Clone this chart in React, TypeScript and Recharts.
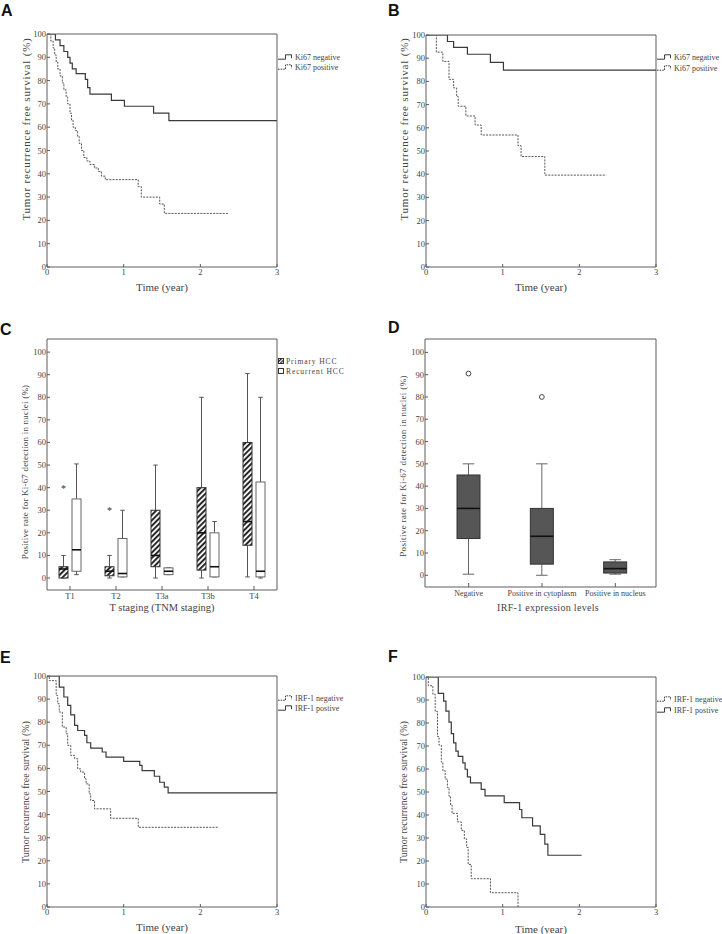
import React from "react";
import { LineChart, Line, XAxis, YAxis, ComposedChart, Bar } from "recharts";

const FONT = "'Liberation Serif', 'DejaVu Serif', serif";
const INK = "#444";
const FRAME = "#5c5c5c";
const CURVE = "#3a3a3a";

// ---- Kaplan-Meier data (time in years, survival in %) ----
const aNegTime = [0, 0.11, 0.17, 0.22, 0.27, 0.3, 0.33, 0.38, 0.5, 0.53, 0.56, 0.84, 1.01, 1.39, 1.59, 3.0];
const aNegSurv = [100, 97.5, 95, 92.5, 90, 87.5, 85, 83, 80.5, 77, 74.2, 71.5, 69, 66, 62.8, 62.8];
const aPosTime = [0, 0.05, 0.08, 0.1, 0.12, 0.14, 0.17, 0.2, 0.22, 0.25, 0.27, 0.3, 0.32, 0.34, 0.37, 0.4, 0.42, 0.45, 0.48, 0.52, 0.56, 0.62, 0.67, 0.71, 0.76, 1.19, 1.23, 1.47, 1.53, 2.36];
const aPosSurv = [100, 97, 94, 91, 88, 85, 82, 79, 76, 73, 70, 66, 63, 60, 58.5, 56, 53, 50, 47, 45.5, 44, 42.5, 41, 39, 37.5, 34.5, 30, 27, 23, 23];

const bNegTime = [0, 0.28, 0.36, 0.54, 0.84, 1.01, 3.0];
const bNegSurv = [100, 97.2, 94.7, 91.7, 88.2, 84.9, 84.9];
const bPosTime = [0, 0.135, 0.22, 0.3, 0.36, 0.4, 0.42, 0.52, 0.64, 0.72, 1.2, 1.24, 1.55, 2.35];
const bPosSurv = [100, 92.6, 88.6, 80.9, 77.2, 73.5, 69.3, 65.1, 61.2, 56.9, 52.3, 47.6, 39.6, 39.6];

const eNegTime = [0, 0.03, 0.12, 0.14, 0.16, 0.2, 0.25, 0.27, 0.31, 0.36, 0.4, 0.44, 0.49, 0.51, 0.55, 0.57, 0.62, 0.83, 1.19, 2.23];
const eNegSurv = [100, 98, 91.6, 88, 84.4, 77.9, 75, 70, 65.6, 64.2, 59.8, 58.4, 55.5, 53.3, 49, 46.1, 42.5, 38.4, 34.5, 34.5];
const ePosTime = [0, 0.16, 0.22, 0.27, 0.31, 0.36, 0.4, 0.49, 0.52, 0.57, 0.72, 0.77, 1.0, 1.21, 1.24, 1.4, 1.47, 1.53, 1.58, 3.0];
const ePosSurv = [100, 95.2, 90.9, 87.3, 83.2, 78.6, 76.4, 74.3, 71.1, 68.8, 67.1, 64.9, 63.0, 61.3, 59.0, 56.6, 54.0, 51.9, 49.4, 49.4];

const fNegTime = [0, 0.03, 0.09, 0.12, 0.15, 0.17, 0.2, 0.22, 0.25, 0.28, 0.3, 0.32, 0.34, 0.41, 0.46, 0.5, 0.53, 0.55, 0.59, 0.84, 1.2];
const fNegSurv = [100, 96.2, 92.5, 85, 74.1, 70.4, 63, 59.3, 55.6, 51.9, 48.1, 44.4, 40.7, 37, 33.3, 29.6, 25.9, 18.5, 12.3, 6.2, 0];
const fPosTime = [0, 0.16, 0.23, 0.26, 0.3, 0.33, 0.36, 0.39, 0.42, 0.48, 0.51, 0.54, 0.58, 0.72, 0.77, 1.02, 1.22, 1.25, 1.39, 1.49, 1.55, 1.59, 2.03];
const fPosSurv = [100, 92.9, 89.5, 85.2, 80.4, 75.4, 71.4, 67.8, 65.5, 62.7, 59.9, 56.6, 54.0, 51.1, 48.3, 45.4, 42.4, 38.8, 35.3, 31.6, 27.3, 22.5, 22.5];

const kmTicksX = [0, 1, 2, 3];
const pctTicks = [0, 10, 20, 30, 40, 50, 60, 70, 80, 90, 100];

// ---- Box plot data ----
const cStages = ["T1", "T2", "T3a", "T3b", "T4"];
const primaryMin = [0, 0, 0, 0, 0.5];
const primaryQ1 = [0, 1, 5, 3.5, 14.5];
const primaryMed = [4, 3, 10, 20, 25];
const primaryQ3 = [5, 5, 30, 40, 60];
const primaryMax = [10, 10, 50, 80, 90.5];
const primaryOut = [40, 30, null, null, null];
const recurMin = [1.5, 0.5, 1.5, 0.5, 0];
const recurQ1 = [3, 0.5, 1.5, 0.5, 0.5];
const recurMed = [12.5, 2, 3, 5, 3];
const recurQ3 = [35, 17.5, 4.5, 20, 42.5];
const recurMax = [50.5, 30, 4.5, 25, 80];

const dLevels = ["Negative", "Positive in cytoplasm", "Positive in nucleus"];
const dMin = [0.5, 0, 0.5];
const dQ1 = [16.5, 5, 1];
const dMed = [30, 17.5, 3];
const dQ3 = [45, 30, 6];
const dMax = [50, 50, 7];
const dOut = [90.5, 80, null];

type Curve = { name: string; time: number[]; surv: number[]; dashed: boolean };
type Rect = { x: number; y: number; w: number; h: number };

const tickStyle = { fill: INK, fontSize: 8.5, fontFamily: FONT };

// axes need a non-zero size to be drawn, so each one takes 1px out of the margin
const AX = 1;
const marginFor = (width: number, height: number, plot: Rect) => ({
  left: plot.x - AX,
  top: plot.y - AX,
  right: width - plot.x - plot.w - AX,
  bottom: height - plot.y - plot.h - AX,
});

function StepGlyph({ dashed }: { dashed: boolean }) {
  return (
    <svg width={16} height={6} style={{ display: "block", marginRight: 1 }}>
      <path
        d="M0,5.2 H7.5 V0.8 H13.5 V4.2"
        fill="none"
        stroke={CURVE}
        strokeWidth={1}
        strokeDasharray={dashed ? "1.6 1" : undefined}
      />
    </svg>
  );
}

function Letter({ x, y, text }: { x: number; y: number; text: string }) {
  return (
    <div
      style={{
        position: "absolute",
        left: x,
        top: y,
        fontFamily: "'Liberation Sans', Arial, sans-serif",
        fontWeight: "bold",
        fontSize: 16,
        lineHeight: "16px",
        color: "#111",
      }}
    >
      {text}
    </div>
  );
}

function Caption({ x, y, text, size, spacing = 0, rotate = false }: any) {
  return (
    <div
      style={{
        position: "absolute",
        left: x,
        top: y,
        transform: `translate(-50%, -50%)${rotate ? " rotate(-90deg)" : ""}`,
        whiteSpace: "nowrap",
        fontFamily: FONT,
        fontSize: size,
        letterSpacing: spacing,
        color: INK,
        lineHeight: 1,
      }}
    >
      {text}
    </div>
  );
}

function KmPanel({
  left,
  top,
  width,
  height,
  plot,
  curves,
}: {
  left: number;
  top: number;
  width: number;
  height: number;
  plot: Rect;
  curves: Curve[];
}) {
  return (
    <div style={{ position: "absolute", left, top, width, height }}>
      <LineChart width={width} height={height} margin={marginFor(width, height, plot)}>
        <XAxis
          xAxisId="b"
          type="number"
          dataKey="t"
          domain={[0, 3]}
          ticks={kmTicksX}
          interval={0}
          allowDataOverflow
          height={AX}
          stroke={FRAME}
          tickSize={-3}
          tickMargin={5}
          tick={tickStyle}
        />
        <XAxis xAxisId="t" orientation="top" type="number" domain={[0, 3]} allowDataOverflow height={AX} stroke={FRAME} tick={false} tickLine={false} />
        <YAxis
          yAxisId="l"
          type="number"
          domain={[0, 100]}
          ticks={pctTicks}
          interval={0}
          allowDataOverflow
          width={AX}
          stroke={FRAME}
          tickSize={-3}
          tickMargin={4}
          tick={tickStyle}
        />
        <YAxis yAxisId="r" orientation="right" type="number" domain={[0, 100]} allowDataOverflow width={AX} stroke={FRAME} tick={false} tickLine={false} />
        {curves.map((c) => (
          <Line
            key={c.name}
            xAxisId="b"
            yAxisId="l"
            data={c.time.map((t, i) => ({ t, v: c.surv[i] }))}
            dataKey="v"
            type="stepAfter"
            stroke={c.dashed ? "#555" : CURVE}
            strokeWidth={c.dashed ? 1 : 1.2}
            strokeDasharray={c.dashed ? "2 1.2" : undefined}
            dot={false}
            activeDot={false}
            isAnimationActive={false}
          />
        ))}
      </LineChart>
    </div>
  );
}

function KmLegend({ x, ys, curves }: { x: number; ys: number[]; curves: Curve[] }) {
  return (
    <>
      {curves.map((c, i) => (
        <div
          key={c.name}
          style={{
            position: "absolute",
            left: x,
            top: ys[i] - 5,
            height: 10,
            display: "flex",
            alignItems: "center",
            fontFamily: FONT,
            fontSize: 8,
            color: INK,
            whiteSpace: "nowrap",
          }}
        >
          <StepGlyph dashed={c.dashed} />
          <span>{c.name}</span>
        </div>
      ))}
    </>
  );
}

type BoxStats = { min: number; q1: number; med: number; q3: number; max: number; out: number | null };

function boxShape(stats: BoxStats[], look: "hatch" | "open" | "solid") {
  return (props: any) => {
    const { x, y, width, height, index } = props;
    const s = stats[index];
    const topPx = Math.min(y, y + height);
    const botPx = Math.max(y, y + height);
    const k = (botPx - topPx) / (s.max - s.min);
    const py = (v: number) => botPx - (v - s.min) * k;
    const cx = x + width / 2;
    const cap = width / 2;
    const boxFill = look === "hatch" ? "url(#hatchC)" : look === "solid" ? "#565656" : "#fff";
    const boxStroke = look === "open" ? "#666" : "#333";
    const whisk = look === "solid" ? "#666" : "#555";
    return (
      <g>
        <line x1={cx} x2={cx} y1={py(s.max)} y2={py(s.q3)} stroke={whisk} strokeWidth={1} />
        <line x1={cx} x2={cx} y1={py(s.q1)} y2={py(s.min)} stroke={whisk} strokeWidth={1} />
        <line x1={cx - cap / 2} x2={cx + cap / 2} y1={py(s.max)} y2={py(s.max)} stroke={whisk} strokeWidth={1} />
        <line x1={cx - cap / 2} x2={cx + cap / 2} y1={py(s.min)} y2={py(s.min)} stroke={whisk} strokeWidth={1} />
        <rect x={x} y={py(s.q3)} width={width} height={Math.max(py(s.q1) - py(s.q3), 1)} fill={boxFill} stroke={boxStroke} strokeWidth={1} />
        <line x1={x} x2={x + width} y1={py(s.med)} y2={py(s.med)} stroke="#111" strokeWidth={1.6} />
        {s.out != null && look === "solid" && (
          <circle cx={cx} cy={py(s.out)} r={2.4} fill="#fff" stroke="#444" strokeWidth={1} />
        )}
        {s.out != null && look !== "solid" && (
          <text x={cx} y={py(s.out) + 4} textAnchor="middle" fontSize={10} fontFamily={FONT} fill="#333">
            *
          </text>
        )}
      </g>
    );
  };
}

const toStats = (mn: number[], q1: number[], md: number[], q3: number[], mx: number[], out?: (number | null)[]) =>
  mn.map((_, i) => ({ min: mn[i], q1: q1[i], med: md[i], q3: q3[i], max: mx[i], out: out ? out[i] : null }));

function BoxPanelC() {
  const width = 360;
  const height = 320;
  const plot = { x: 47, y: 39, w: 230, h: 251 };
  const primary = toStats(primaryMin, primaryQ1, primaryMed, primaryQ3, primaryMax, primaryOut);
  const recur = toStats(recurMin, recurQ1, recurMed, recurQ3, recurMax);
  const table = cStages.map((cat, i) => ({
    cat,
    pRange: [primaryMin[i], primaryMax[i]],
    rRange: [recurMin[i], recurMax[i]],
  }));
  return (
    <div style={{ position: "absolute", left: 0, top: 300, width, height }}>
      <ComposedChart width={width} height={height} data={table} margin={marginFor(width, height, plot)} barGap={4} barSize={9}>
        <defs>
          <pattern id="hatchC" patternUnits="userSpaceOnUse" width={3.8} height={3.8} patternTransform="rotate(45)">
            <rect width={3.8} height={3.8} fill="#fff" />
            <rect width={2} height={3.8} fill="#262626" />
          </pattern>
        </defs>
        <XAxis xAxisId="b" dataKey="cat" height={AX} stroke={FRAME} tickSize={-4} tickMargin={7} tick={tickStyle} interval={0} />
        <XAxis xAxisId="t" orientation="top" dataKey="cat" height={AX} stroke={FRAME} tick={false} tickLine={false} />
        <YAxis
          yAxisId="l"
          type="number"
          domain={[-5.3, 105.8]}
          ticks={pctTicks}
          interval={0}
          allowDataOverflow
          width={AX}
          stroke={FRAME}
          tickSize={-3}
          tickMargin={4}
          tick={tickStyle}
        />
        <YAxis yAxisId="r" orientation="right" type="number" domain={[-5.3, 105.8]} allowDataOverflow width={AX} stroke={FRAME} tick={false} tickLine={false} />
        <Bar xAxisId="b" yAxisId="l" dataKey="pRange" shape={boxShape(primary, "hatch")} isAnimationActive={false} />
        <Bar xAxisId="b" yAxisId="l" dataKey="rRange" shape={boxShape(recur, "open")} isAnimationActive={false} />
      </ComposedChart>
    </div>
  );
}

function BoxPanelD() {
  const width = 362;
  const height = 320;
  const plot = { x: 65, y: 39, w: 231, h: 248 };
  const stats = toStats(dMin, dQ1, dMed, dQ3, dMax, dOut);
  const table = dLevels.map((level, i) => ({ level, range: [dMin[i], dMax[i]] }));
  return (
    <div style={{ position: "absolute", left: 360, top: 300, width, height }}>
      <ComposedChart width={width} height={height} data={table} margin={marginFor(width, height, plot)} barSize={23}>
        <XAxis
          xAxisId="b"
          dataKey="level"
          height={AX}
          stroke={FRAME}
          tickSize={-4}
          tickMargin={7}
          tick={{ ...tickStyle, fontSize: 8 }}
          interval={0}
          padding={{ left: 7, right: 4 }}
        />
        <XAxis xAxisId="t" orientation="top" dataKey="level" height={AX} stroke={FRAME} tick={false} tickLine={false} />
        <YAxis
          yAxisId="l"
          type="number"
          domain={[-5.25, 106]}
          ticks={pctTicks}
          interval={0}
          allowDataOverflow
          width={AX}
          stroke={FRAME}
          tickSize={-3}
          tickMargin={4}
          tick={tickStyle}
        />
        <YAxis yAxisId="r" orientation="right" type="number" domain={[-5.25, 106]} allowDataOverflow width={AX} stroke={FRAME} tick={false} tickLine={false} />
        <Bar xAxisId="b" yAxisId="l" dataKey="range" shape={boxShape(stats, "solid")} isAnimationActive={false} />
      </ComposedChart>
    </div>
  );
}

export default function App() {
  const aCurves: Curve[] = [
    { name: "Ki67 negative", time: aNegTime, surv: aNegSurv, dashed: false },
    { name: "Ki67 positive", time: aPosTime, surv: aPosSurv, dashed: true },
  ];
  const bCurves: Curve[] = [
    { name: "Ki67 negative", time: bNegTime, surv: bNegSurv, dashed: false },
    { name: "Ki67 positive", time: bPosTime, surv: bPosSurv, dashed: true },
  ];
  const eCurves: Curve[] = [
    { name: "IRF-1 negative", time: eNegTime, surv: eNegSurv, dashed: true },
    { name: "IRF-1 postive", time: ePosTime, surv: ePosSurv, dashed: false },
  ];
  const fCurves: Curve[] = [
    { name: "IRF-1 negative", time: fNegTime, surv: fNegSurv, dashed: true },
    { name: "IRF-1 postive", time: fPosTime, surv: fPosSurv, dashed: false },
  ];
  const survTitle = "Tumor recurrence free survival (%)";
  const kiTitle = "Positive rate for Ki-67 detection in nuclei (%)";

  return (
    <div
      style={{
        position: "absolute",
        left: 0,
        top: 0,
        width: 722,
        height: 934,
        background: "#fff",
        overflow: "hidden",
        fontFamily: FONT,
      }}
    >
      {/* A */}
      <KmPanel left={0} top={0} width={360} height={300} plot={{ x: 47, y: 34, w: 230, h: 233 }} curves={aCurves} />
      <Letter x={1} y={3} text="A" />
      <Caption x={26} y={129} text={survTitle} size={11} spacing={0.8} rotate />
      <Caption x={162} y={287} text="Time (year)" size={11} />
      <KmLegend x={278} ys={[57, 67]} curves={aCurves} />

      {/* B */}
      <KmPanel left={360} top={0} width={362} height={300} plot={{ x: 66, y: 35, w: 230, h: 232 }} curves={bCurves} />
      <Letter x={388} y={3} text="B" />
      <Caption x={404} y={129} text={survTitle} size={11} spacing={0.8} rotate />
      <Caption x={541} y={287} text="Time (year)" size={11} />
      <KmLegend x={657} ys={[57, 68]} curves={bCurves} />

      {/* C */}
      <BoxPanelC />
      <Letter x={0} y={322} text="C" />
      <Caption x={25} y={472} text={kiTitle} size={9} spacing={0.2} rotate />
      <Caption x={162} y={608} text="T staging (TNM staging)" size={10.5} />
      {[
        { label: "Primary HCC", hatch: true, y: 361 },
        { label: "Recurrent HCC", hatch: false, y: 371 },
      ].map((r) => (
        <div
          key={r.label}
          style={{
            position: "absolute",
            left: 278,
            top: r.y - 5,
            height: 10,
            display: "flex",
            alignItems: "center",
            fontFamily: FONT,
            fontSize: 7.5,
            letterSpacing: 0.9,
            color: INK,
            whiteSpace: "nowrap",
          }}
        >
          <svg width={7} height={6} style={{ display: "block", marginRight: 1 }}>
            <defs>
              <pattern id={`leg${r.label.length}`} patternUnits="userSpaceOnUse" width={2.4} height={2.4} patternTransform="rotate(45)">
                <rect width={2.4} height={2.4} fill="#fff" />
                <rect width={1.2} height={2.4} fill="#262626" />
              </pattern>
            </defs>
            <rect x={0.5} y={0.5} width={5} height={5} fill={r.hatch ? `url(#leg${r.label.length})` : "#fff"} stroke="#333" strokeWidth={1} />
          </svg>
          <span>{r.label}</span>
        </div>
      ))}

      {/* D */}
      <BoxPanelD />
      <Letter x={388} y={320} text="D" />
      <Caption x={403} y={466} text={kiTitle} size={9} spacing={0.35} rotate />
      <Caption x={548} y={608} text="IRF-1 expression levels" size={10} spacing={0.3} />

      {/* E */}
      <KmPanel left={0} top={620} width={360} height={314} plot={{ x: 47, y: 56, w: 230, h: 231 }} curves={eCurves} />
      <Letter x={0} y={650} text="E" />
      <Caption x={26} y={792} text={survTitle} size={10} rotate />
      <Caption x={162} y={927} text="Time (year)" size={11} />
      <KmLegend x={278} ys={[698, 708]} curves={eCurves} />

      {/* F */}
      <KmPanel left={360} top={620} width={362} height={314} plot={{ x: 66, y: 57, w: 230, h: 230 }} curves={fCurves} />
      <Letter x={388} y={649} text="F" />
      <Caption x={404} y={792} text={survTitle} size={10} rotate />
      <Caption x={541} y={929} text="Time (year)" size={11} />
      <KmLegend x={657} ys={[699, 710]} curves={fCurves} />
    </div>
  );
}
